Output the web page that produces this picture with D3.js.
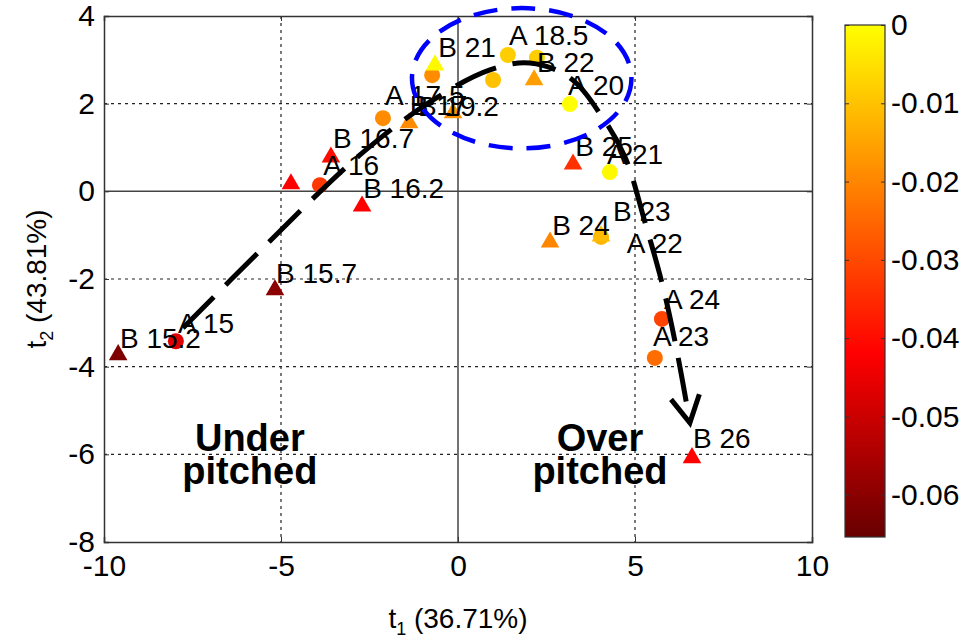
<!DOCTYPE html>
<html>
<head>
<meta charset="utf-8">
<script src="https://cdn.jsdelivr.net/npm/d3@7"></script>
<style>
  body { margin: 0; background: #fff; }
  svg { display: block; }
  text { font-family: Arial, "Liberation Sans", sans-serif; }
  .tick text { font-size: 30px; fill: #000; }
  .axis path, .axis line { stroke: #333; }
</style>
</head>
<body>
<script>
// score points: shape (A = circle, B = triangle), t1, t2, colour value
var shapes = ['B','A','B','B','A','B','B','A','B','B','A','B','A','A','A','B','A','B','A','B','A','B','A','A','B']
var t1 = [-9.60,-7.97,-5.17,-4.72,-3.90,-3.59,-2.71,-2.12,-1.38,-0.14,-0.73,-0.65,0.99,1.41,2.23,2.15,3.16,3.25,4.29,2.60,4.04,4.04,5.76,5.56,6.61]
var t2 = [-3.73,-3.42,-2.25,0.17,0.14,0.78,-0.34,1.67,1.56,1.79,2.65,2.88,2.54,3.11,3.05,2.54,1.99,0.62,0.44,-1.16,-1.04,-1.02,-2.91,-3.80,-6.08]
var cvals = [-0.062,-0.047,-0.060,-0.042,-0.033,-0.040,-0.042,-0.019,-0.019,-0.018,-0.019,-0.001,-0.010,-0.008,-0.008,-0.016,0,-0.034,-0.001,-0.020,-0.012,-0.011,-0.031,-0.024,-0.042]

// point labels and where they were written (data units)
var labels = ['B 15.2','A 15','B 15.7','','A 16','B 16.7','B 16.2','A 17.5','B 17','B 19.2','','B 21','','A 18.5','','B 22','A 20','B 25','A 21','B 24','A 22','B 23','A 24','A 23','B 26']
var labelX = [-9.55,-7.91,-5.14,0,-3.81,-3.53,-2.68,-2.06,-1.36,-1.13,0,-0.56,0,1.44,0,2.23,3.11,3.31,4.21,2.66,4.77,4.38,5.82,5.51,6.64]
var labelY = [-3.58,-3.23,-2.09,0,0.37,0.99,-0.15,1.97,1.74,1.72,0,3.06,0,3.34,0,2.72,2.19,0.80,0.62,-0.99,-1.41,-0.68,-2.69,-3.53,-5.86]

// trend path drawn by hand over the scores
var pathT1 = [-7.77,-5.51,-2.77,-0.79,0.90,2.03,3.16,4.07,4.72,5.28,5.79,6.19,6.55]
var pathT2 = [-3.12,-1.29,0.83,2.04,2.77,2.93,2.59,1.70,0.78,-0.70,-2.18,-3.67,-5.28]

// optimum region ellipse: centre and radii
var ellipseC = [1.80, 2.58]
var ellipseR = [3.10, 1.60]

var xTicks = [-10,-5,0,5,10]
var yTicks = [4,2,0,-2,-4,-6,-8]
var cTicks = [0,-0.01,-0.02,-0.03,-0.04,-0.05,-0.06]
var cDomain = [-0.0654, 0]
// colormap stops: dark red -> red -> yellow
var cmapVals = [-0.0654,-0.042,0]
var cmapCols = ['#680000','#ff0000','#ffff00']

var width = 976, height = 643

var svg = d3.select('body').append('svg')
  .attr('width', width)
  .attr('height', height)

var x = d3.scaleLinear().domain([-10,10]).range([104,812])
var y = d3.scaleLinear().domain([-8,4]).range([542,16])
var color = d3.scaleLinear().domain(cmapVals).range(cmapCols)

// grid
var grid = svg.append('g')
grid.selectAll('.gx').data(xTicks.filter(function(d) { return d != 0 && d != -10 && d != 10 }))
  .enter().append('line')
  .attr('x1', function(d) { return x(d) }).attr('x2', function(d) { return x(d) })
  .attr('y1', y(4)).attr('y2', y(-8))
  .attr('stroke', '#222').attr('stroke-width', 1.2).attr('stroke-dasharray', '3,4')
grid.selectAll('.gy').data(yTicks.filter(function(d) { return d != 0 && d != 4 && d != -8 }))
  .enter().append('line')
  .attr('y1', function(d) { return y(d) }).attr('y2', function(d) { return y(d) })
  .attr('x1', x(-10)).attr('x2', x(10))
  .attr('stroke', '#222').attr('stroke-width', 1.2).attr('stroke-dasharray', '3,4')
// zero lines
grid.append('line').attr('x1', x(0)).attr('x2', x(0)).attr('y1', y(4)).attr('y2', y(-8))
  .attr('stroke', '#444').attr('stroke-width', 1.5)
grid.append('line').attr('y1', y(0)).attr('y2', y(0)).attr('x1', x(-10)).attr('x2', x(10))
  .attr('stroke', '#444').attr('stroke-width', 1.5)

// axes
var fmt = function(d) { return String(d) }
svg.append('g').attr('class', 'axis').attr('transform', 'translate(0,' + y(-8) + ')')
  .call(d3.axisBottom(x).tickValues(xTicks).tickSize(-5).tickPadding(13).tickFormat(fmt))
svg.append('g').attr('class', 'axis').attr('transform', 'translate(' + x(-10) + ',0)')
  .call(d3.axisLeft(y).tickValues(yTicks).tickSize(-5).tickPadding(9).tickFormat(fmt))
svg.append('g').attr('class', 'axis').attr('transform', 'translate(0,' + y(4) + ')')
  .call(d3.axisTop(x).tickValues(xTicks).tickSize(-5).tickFormat(''))
svg.append('g').attr('class', 'axis').attr('transform', 'translate(' + x(10) + ',0)')
  .call(d3.axisRight(y).tickValues(yTicks).tickSize(-5).tickFormat(''))
svg.selectAll('.axis .domain').attr('stroke-width', 1.5)

// points
var idx = d3.range(t1.length)
var pts = svg.append('g')
pts.selectAll('circle').data(idx.filter(function(i) { return shapes[i] == 'A' }))
  .enter().append('circle')
  .attr('cx', function(i) { return x(t1[i]) })
  .attr('cy', function(i) { return y(t2[i]) })
  .attr('r', 8)
  .attr('fill', function(i) { return color(cvals[i]) })
pts.selectAll('path').data(idx.filter(function(i) { return shapes[i] == 'B' }))
  .enter().append('path')
  .attr('d', d3.symbol().type(d3.symbolTriangle).size(150))
  .attr('transform', function(i) { return 'translate(' + x(t1[i]) + ',' + y(t2[i]) + ')' })
  .attr('fill', function(i) { return color(cvals[i]) })

// labels
svg.append('g').selectAll('text').data(idx.filter(function(i) { return labels[i] }))
  .enter().append('text')
  .attr('x', function(i) { return x(labelX[i]) })
  .attr('y', function(i) { return y(labelY[i]) })
  .attr('font-size', 28)
  .text(function(i) { return labels[i] })

// trend path with arrow
var line = d3.line()
  .x(function(i) { return x(pathT1[i]) })
  .y(function(i) { return y(pathT2[i]) })
  .curve(d3.curveCatmullRom)
svg.append('path')
  .attr('d', line(d3.range(pathT1.length)))
  .attr('fill', 'none').attr('stroke', '#000').attr('stroke-width', 5)
  .attr('stroke-dasharray', '44,17')

var n = pathT1.length
var tipX = x(pathT1[n-1]), tipY = y(pathT2[n-1])
var ang = Math.atan2(tipY - y(pathT2[n-2]), tipX - x(pathT1[n-2]))
var wing = 30, spread = 0.5
svg.append('path')
  .attr('d', 'M' + (tipX - wing*Math.cos(ang-spread)) + ',' + (tipY - wing*Math.sin(ang-spread)) +
             'L' + tipX + ',' + tipY +
             'L' + (tipX - wing*Math.cos(ang+spread)) + ',' + (tipY - wing*Math.sin(ang+spread)))
  .attr('fill', 'none').attr('stroke', '#000').attr('stroke-width', 5)

// ellipse
svg.append('ellipse')
  .attr('cx', x(ellipseC[0])).attr('cy', y(ellipseC[1]))
  .attr('rx', x(ellipseC[0] + ellipseR[0]) - x(ellipseC[0]))
  .attr('ry', y(ellipseC[1] - ellipseR[1]) - y(ellipseC[1]))
  .attr('fill', 'none').attr('stroke', '#0000ff').attr('stroke-width', 4.5)
  .attr('stroke-dasharray', '24,14')

// region notes
var notes = [['Under', -5.88, -5.92], ['pitched', -5.88, -6.68], ['Over', 4.01, -5.92], ['pitched', 4.01, -6.68]]
svg.append('g').selectAll('text').data(notes).enter().append('text')
  .attr('x', function(d) { return x(d[1]) })
  .attr('y', function(d) { return y(d[2]) })
  .attr('text-anchor', 'middle')
  .attr('font-size', 38).attr('font-weight', 'bold')
  .text(function(d) { return d[0] })

// axis titles
var xt = svg.append('text').attr('x', 458).attr('y', 628).attr('text-anchor', 'middle').attr('font-size', 28)
xt.append('tspan').text('t')
xt.append('tspan').attr('font-size', 18).attr('dy', 7).text('1')
xt.append('tspan').attr('dy', -7).text(' (36.71%)')
var yt = svg.append('text').attr('transform', 'translate(46,279)rotate(-90)').attr('text-anchor', 'middle').attr('font-size', 28)
yt.append('tspan').text('t')
yt.append('tspan').attr('font-size', 18).attr('dy', 7).text('2')
yt.append('tspan').attr('dy', -7).text(' (43.81%)')

// colorbar
var cy = d3.scaleLinear().domain(cDomain).range([537, 25])
var grad = svg.append('defs').append('linearGradient').attr('id', 'cmap')
  .attr('x1', 0).attr('y1', 1).attr('x2', 0).attr('y2', 0)
grad.selectAll('stop').data(cmapVals).enter().append('stop')
  .attr('offset', function(d) { return (d - cDomain[0]) / (cDomain[1] - cDomain[0]) })
  .attr('stop-color', function(d, i) { return cmapCols[i] })
svg.append('rect').attr('x', 845).attr('y', cy(0)).attr('width', 40).attr('height', cy(cDomain[0]) - cy(0))
  .attr('fill', 'url(#cmap)').attr('stroke', '#333').attr('stroke-width', 1.2)
svg.append('g').attr('class', 'axis').attr('transform', 'translate(885,0)')
  .call(d3.axisRight(cy).tickValues(cTicks).tickSize(-4).tickPadding(6)
    .tickFormat(function(d) { return d == 0 ? '0' : d.toFixed(2) }))
  .call(function(g) { g.select('.domain').remove() })
  .selectAll('text').attr('font-size', 28)
svg.append('g').attr('class', 'axis').attr('transform', 'translate(845,0)')
  .call(d3.axisLeft(cy).tickValues(cTicks).tickSize(-4).tickFormat(''))
  .call(function(g) { g.select('.domain').remove() })
</script>
</body>
</html>
